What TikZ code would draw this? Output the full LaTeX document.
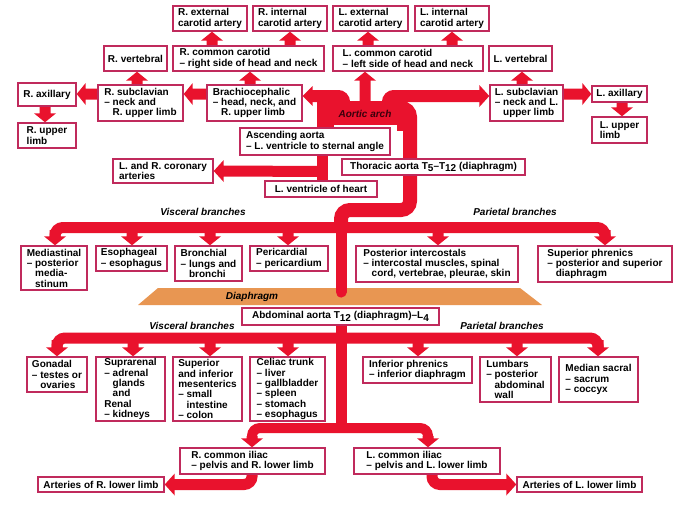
\documentclass[tikz,border=0pt]{standalone}
\usepackage{fontspec}
\setmainfont{Liberation Sans}
\usetikzlibrary{calc,backgrounds}
\definecolor{vred}{RGB}{233,18,45}
\definecolor{boxc}{RGB}{192,42,92}
\definecolor{diaph}{RGB}{232,150,82}
\definecolor{archtxt}{RGB}{60,0,12}
\pgfdeclarelayer{bgl}
\pgfdeclarelayer{ves}
\pgfsetlayers{bgl,ves,main}
\newcommand\indd{\phantom{– }}
\newcommand\lowd[1]{\lower2.5pt\hbox{#1}}
\newcommand\bx[6]{\node[box, minimum width={(#4-#2)*1pt}, minimum height={(#5-#3)*1pt}] (#1) at ({(#2+#4)/2},{(#3+#5)/2}) {#6};}
% vertical up arrow: x, start y, target node
\newcommand\vUp[3]{\fill[vessel] (#1-5.5,#2) -- ($(#3.south -| #1,0)+(-5.5,9)$) -- ($(#3.south -| #1,0)+(-11,9)$) -- (#3.south -| #1,0) -- ($(#3.south -| #1,0)+(11,9)$) -- ($(#3.south -| #1,0)+(5.5,9)$) -- (#1+5.5,#2) -- cycle;}
% vertical down arrow
\newcommand\vDn[3]{\fill[vessel] (#1-5.5,#2) -- ($(#3.north -| #1,0)+(-5.5,-9)$) -- ($(#3.north -| #1,0)+(-11,-9)$) -- (#3.north -| #1,0) -- ($(#3.north -| #1,0)+(11,-9)$) -- ($(#3.north -| #1,0)+(5.5,-9)$) -- (#1+5.5,#2) -- cycle;}
% horizontal left arrow: y, start x, target node
\newcommand\hLt[3]{\fill[vessel] (#2,#1-5.5) -- ($(#3.east |- 0,#1)+(9,-5.5)$) -- ($(#3.east |- 0,#1)+(9,-11)$) -- (#3.east |- 0,#1) -- ($(#3.east |- 0,#1)+(9,11)$) -- ($(#3.east |- 0,#1)+(9,5.5)$) -- (#2,#1+5.5) -- cycle;}
% horizontal right arrow
\newcommand\hRt[3]{\fill[vessel] (#2,#1-5.5) -- ($(#3.west |- 0,#1)+(-9,-5.5)$) -- ($(#3.west |- 0,#1)+(-9,-11)$) -- (#3.west |- 0,#1) -- ($(#3.west |- 0,#1)+(-9,11)$) -- ($(#3.west |- 0,#1)+(-9,5.5)$) -- (#2,#1+5.5) -- cycle;}
\begin{document}
\begin{tikzpicture}[x=1pt,y=-1pt,
  box/.style={draw=boxc, line width=1.4pt, fill=white, align=left, inner xsep=3pt, inner ysep=0.5pt, font=\fontsize{10}{10.3}\selectfont\bfseries},
  vessel/.style={fill=vred},
  vline/.style={draw=vred},
  lab/.style={inner sep=0pt, font=\fontsize{10}{10}\selectfont\bfseries\itshape}]
\useasboundingbox (0,0) rectangle (680,517);
% ---- boxes ----
\bx{rext}{173}{6}{247}{31}{R. external\\carotid artery}
\bx{rint}{253}{6}{327}{31}{R. internal\\carotid artery}
\bx{lext}{333}{6}{408}{31}{L. external\\carotid artery}
\bx{lint}{415}{6}{489}{31}{L. internal\\carotid artery}
\bx{rvert}{104}{46}{167}{71}{R. vertebral}
\bx{rcc}{173}{46}{324}{71}{R. common carotid\\– right side of head and neck}
\bx{lcc}{333}{46}{483}{71}{L. common carotid\\– left side of head and neck}
\bx{lvert}{489}{46}{552}{71}{L. vertebral}
\bx{rax}{18}{83}{76}{106}{R. axillary}
\bx{rsub}{98}{85}{183}{121}{R. subclavian\\– neck and\\\indd R. upper limb}
\bx{brach}{207}{85}{302}{121}{Brachiocephalic\\– head, neck, and\\\indd R. upper limb}
\bx{lsub}{490}{85}{563}{121}{L. subclavian\\– neck and L.\\\indd upper limb}
\bx{lax}{592}{86}{647}{102}{L. axillary}
\bx{rul}{18}{123}{76}{148}{R. upper\\limb}
\bx{lul}{592}{117}{647}{143}{L. upper\\limb}
\bx{asc}{240}{128}{390}{155}{Ascending aorta\\– L. ventricle to sternal angle}
\bx{cor}{113}{159}{213}{183}{L. and R. coronary\\arteries}
\bx{thor}{342}{159}{525}{175}{Thoracic aorta T\lowd{5}–T\lowd{12} (diaphragm)}
\bx{lvh}{265}{181}{377}{197}{L. ventricle of heart}
\bx{med}{21}{246}{87}{290}{Mediastinal\\– posterior\\\indd media-\\\indd stinum}
\bx{eso}{96}{246}{167}{271}{Esophageal\\– esophagus}
\bx{bron}{175}{246}{242}{281}{Bronchial\\– lungs and\\\indd bronchi}
\bx{peri}{250}{246}{328}{271}{Pericardial\\– pericardium}
\bx{post}{356}{246}{518}{282}{Posterior intercostals\\– intercostal muscles, spinal\\\indd cord, vertebrae, pleurae, skin}
\bx{supph}{538}{246}{672}{282}{Superior phrenics\\– posterior and superior\\\indd diaphragm}
\bx{abd}{242}{308}{439}{325}{Abdominal aorta T\lowd{12} (diaphragm)–L\lowd{4}}
\bx{gon}{27}{357}{87}{392}{Gonadal\\– testes or\\\indd ovaries}
\bx{supra}{96}{357}{165}{421}{Suprarenal\\– adrenal\\\indd glands\\\indd and\\Renal\\– kidneys}
\bx{mes}{173}{357}{242}{421}{Superior\\and inferior\\mesenterics\\– small\\\indd intestine\\– colon}
\bx{cel}{250}{357}{325}{421}{Celiac trunk\\– liver\\– gallbladder\\– spleen\\– stomach\\– esophagus}
\bx{infph}{363}{357}{472}{383}{Inferior phrenics\\– inferior diaphragm}
\bx{lumb}{480}{357}{551}{402}{Lumbars\\– posterior\\\indd abdominal\\\indd wall}
\bx{msac}{559}{357}{638}{402}{Median sacral\\– sacrum\\– coccyx}
\bx{rci}{180}{448}{325}{474}{R. common iliac\\– pelvis and R. lower limb}
\bx{lci}{354}{448}{500}{474}{L. common iliac\\– pelvis and L. lower limb}
\bx{rll}{38}{477}{164}{492}{Arteries of R. lower limb}
\bx{lll}{517}{477}{642}{492}{Arteries of L. lower limb}
% ---- labels ----
\node[lab] (vis1) at (203,212) {Visceral branches};
\node[lab] (par1) at (515,212) {Parietal branches};
\node[lab] (vis2) at (192,326) {Visceral branches};
\node[lab] (par2) at (502,326) {Parietal branches};
\node[lab] (dia) at (252,296.5) {Diaphragm};
\node[lab, text=archtxt] (archl) at (365,114) {Aortic arch};
% ---- background ----
\begin{pgfonlayer}{bgl}
\fill[white] (0,0) rectangle (680,517);
\fill[diaph] (158,288) -- (520,288) -- (542,305) -- (138,305) -- cycle;
\end{pgfonlayer}
% ---- vessels ----
\begin{pgfonlayer}{ves}
% arch
\fill[vessel] (317,101) rectangle (405,125);
\fill[vessel] (328,125) rectangle (334,131);
\fill[vessel] (397,125) rectangle (403,131);
\draw[vline, line width=11pt] (322.5,195) -- (322.5,110);
\draw[vline, line width=12pt, rounded corners=6pt] ($(brach.east |- 0,96)+(8.5,0)$) -- (344,96) -- (344,112);
\fill[vessel] (brach.east |- 0,96) -- ++(10,-10) -- ++(0,20) -- cycle;
\draw[vline, line width=12pt, rounded corners=6pt] (388,112) -- (388,96) -- ($(lsub.west |- 0,96)+(-8.5,0)$);
\fill[vessel] (lsub.west |- 0,96) -- ++(-10,-11) -- ++(0,22) -- cycle;
\vUp{365}{108}{lcc}
% coronary
\fill[vessel] (cor.east) -- ++(10,-11) -- ++(0,5.5) -- (323,166) -- (323,177) -- ($(cor.east)+(10,5.5)$) -- ++(0,5.5) -- cycle;
% thoracic descending and jog
\draw[vline, line width=14pt, rounded corners=9pt] (392,108) -- (410,108) -- (410,210) -- (341,210) -- (341,228);
\draw[vline, line width=11pt, line cap=round] (341,215) -- (341,292);
% thoracic branches
\draw[vline, line width=11pt, rounded corners=8pt] (341,227.5) -- (55,227.5) -- ($(med.north -| 55,0)+(0,-8.5)$);
\draw[vline, line width=11pt, rounded corners=8pt] (341,227.5) -- (605,227.5) -- ($(supph.north -| 605,0)+(0,-8.5)$);
\vDn{55}{230}{med}
\vDn{132}{230}{eso}
\vDn{210}{230}{bron}
\vDn{288}{230}{peri}
\vDn{438}{230}{post}
\vDn{605}{230}{supph}
% abdominal
\draw[vline, line width=11pt] (341,320) -- (341,432);
\draw[vline, line width=11pt, rounded corners=8pt] (341,338) -- (57,338) -- ($(gon.north -| 57,0)+(0,-8.5)$);
\draw[vline, line width=11pt, rounded corners=8pt] (341,338) -- (598,338) -- ($(msac.north -| 598,0)+(0,-8.5)$);
\vDn{57}{340}{gon}
\vDn{133}{340}{supra}
\vDn{210}{340}{mes}
\vDn{288}{340}{cel}
\vDn{418}{340}{infph}
\vDn{517}{340}{lumb}
\vDn{598}{340}{msac}
% iliac split
\draw[vline, line width=10pt, rounded corners=8pt] ($(rci.north -| 252,0)+(0,-8.5)$) -- (252,428) -- (428,428) -- ($(lci.north -| 428,0)+(0,-8.5)$);
\vDn{252}{436}{rci}
\vDn{428}{436}{lci}
% lower limbs
\draw[vline, line width=11pt, rounded corners=8pt] (252,470) -- (252,484.5) -- ($(rll.east)+(9.5,0)$);
\fill[vessel] (rll.east) -- ++(10,-11) -- ++(0,22) -- cycle;
\draw[vline, line width=11pt, rounded corners=8pt] (432,470) -- (432,484.5) -- ($(lll.west)+(-9.5,0)$);
\fill[vessel] (lll.west) -- ++(-10,-11) -- ++(0,22) -- cycle;
% upper-left arrows
\hLt{94}{210}{rsub}
\hLt{94}{101}{rax}
\vUp{250}{88}{rcc}
\vUp{137}{88}{rvert}
\vUp{212}{49}{rext}
\vUp{290}{49}{rint}
\vDn{45}{103}{rul}
% upper-right arrows
\vUp{368}{49}{lext}
\vUp{452}{49}{lint}
\vUp{522}{88}{lvert}
\hRt{94}{560}{lax}
\vDn{622}{99}{lul}
\end{pgfonlayer}
\end{tikzpicture}
\end{document}
